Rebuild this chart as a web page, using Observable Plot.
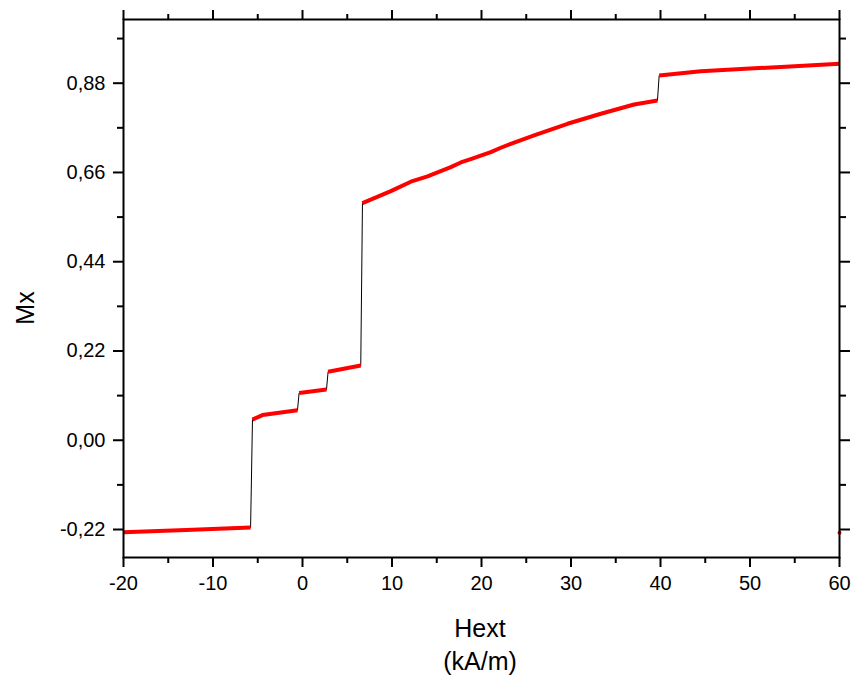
<!DOCTYPE html>
<html>
<head>
<meta charset="utf-8">
<script src="https://cdn.jsdelivr.net/npm/d3@7"></script>
<script src="https://cdn.jsdelivr.net/npm/@observablehq/plot@0.6"></script>
<style>
  html, body { margin: 0; padding: 0; background: #fff; }
  #chart { width: 856px; height: 679px; }
</style>
</head>
<body>
<div id="chart"></div>
<script>
// Data (Hext in kA/m, Mx)
const hext = [
  -20, -13, -5.8,
  -5.59, -4.47, -0.56,
  -0.38, 2.68,
  2.86, 6.51,
  6.70, 9.87, 12.10, 13.97, 16.57, 17.69, 18.80, 21.04, 22.16, 23.27, 25.88, 29.61, 33.34, 37.05, 39.66,
  39.85, 44.5, 50, 53.44, 60,
  60
];
const mx = [
  -0.227, -0.221, -0.215,
  0.051, 0.062, 0.074,
  0.1165, 0.125,
  0.169, 0.184,
  0.5845, 0.6141, 0.6372, 0.6502, 0.6732, 0.6847, 0.6929, 0.7101, 0.7209, 0.7307, 0.7512, 0.7800, 0.8047, 0.8276, 0.8374,
  0.899, 0.9096, 0.916, 0.920, 0.928,
  -0.228
];
const branch = [
  1, 1, 1,
  2, 2, 2,
  3, 3,
  4, 4,
  5, 5, 5, 5, 5, 5, 5, 5, 5, 5, 5, 5, 5, 5, 5,
  6, 6, 6, 6, 6,
  7
];
const xMajor = [-20, -10, 0, 10, 20, 30, 40, 50, 60];
const xMinor = [-15, -5, 5, 15, 25, 35, 45, 55];
const yMajor = [-0.22, 0, 0.22, 0.44, 0.66, 0.88];
const yMinor = [-0.11, 0.11, 0.33, 0.55, 0.77, 0.99];
const xTitle = "Hext";
const xUnit = "(kA/m)";
const yTitle = "Mx";

const data = hext.map((x, i) => ({x, y: mx[i], b: branch[i]}));
const sweep = data.filter(d => d.b !== 7);
const lone = data.filter(d => d.b === 7);

const loc = d3.formatLocale({decimal: ",", thousands: ".", grouping: [3], currency: ["", ""], minus: "-"});
const fy = loc.format(".2f");
const fx = loc.format("d");
const none = () => "";

const plot = Plot.plot({
  width: 856,
  height: 679,
  marginLeft: 123,
  marginRight: 17,
  marginTop: 19,
  marginBottom: 122,
  style: {fontFamily: "Liberation Sans, Arial, sans-serif", fontSize: "20px", color: "#000", background: "#fff"},
  x: {domain: [-20, 60]},
  y: {domain: [-0.289, 1.037]},
  marks: [
    // axes, major ticks
    Plot.axisX(xMajor, {anchor: "bottom", tickSize: 10, tickPadding: 8, tickFormat: fx, strokeWidth: 2, label: null, fontSize: 20}),
    Plot.axisX(xMajor, {anchor: "top", tickSize: 10, tickFormat: none, strokeWidth: 2, label: null}),
    Plot.axisY(yMajor, {anchor: "left", tickSize: 10, tickPadding: 8, tickFormat: fy, strokeWidth: 2, label: null, fontSize: 20}),
    Plot.axisY(yMajor, {anchor: "right", tickSize: 10, tickFormat: none, strokeWidth: 2, label: null}),
    // minor ticks
    Plot.axisX(xMinor, {anchor: "bottom", tickSize: 6, tickFormat: none, strokeWidth: 2, label: null}),
    Plot.axisX(xMinor, {anchor: "top", tickSize: 6, tickFormat: none, strokeWidth: 2, label: null}),
    Plot.axisY(yMinor, {anchor: "left", tickSize: 6, tickFormat: none, strokeWidth: 2, label: null}),
    Plot.axisY(yMinor, {anchor: "right", tickSize: 6, tickFormat: none, strokeWidth: 2, label: null}),
    // connecting black line
    Plot.line(sweep, {x: "x", y: "y", stroke: "#000", strokeWidth: 1}),
    // red data segments
    Plot.line(sweep, {x: "x", y: "y", z: "b", stroke: "#ff0000", strokeWidth: 4, strokeLinecap: "butt"}),
    Plot.dot(lone, {x: "x", y: "y", r: 2, fill: "#ff0000", stroke: null}),
    Plot.frame({stroke: "#000", strokeWidth: 2})
  ]
});

const svg = d3.select(plot);
svg.append("text")
  .attr("x", 480).attr("y", 637)
  .attr("text-anchor", "middle")
  .attr("font-family", "Liberation Sans, Arial, sans-serif")
  .attr("font-size", 25)
  .attr("fill", "#000")
  .text(xTitle);
svg.append("text")
  .attr("x", 480).attr("y", 670)
  .attr("text-anchor", "middle")
  .attr("font-family", "Liberation Sans, Arial, sans-serif")
  .attr("font-size", 25)
  .attr("fill", "#000")
  .text(xUnit);
svg.append("text")
  .attr("transform", "translate(34,308) rotate(-90)")
  .attr("text-anchor", "middle")
  .attr("font-family", "Liberation Sans, Arial, sans-serif")
  .attr("font-size", 25)
  .attr("fill", "#000")
  .text(yTitle);

document.getElementById("chart").appendChild(plot);
</script>
</body>
</html>
